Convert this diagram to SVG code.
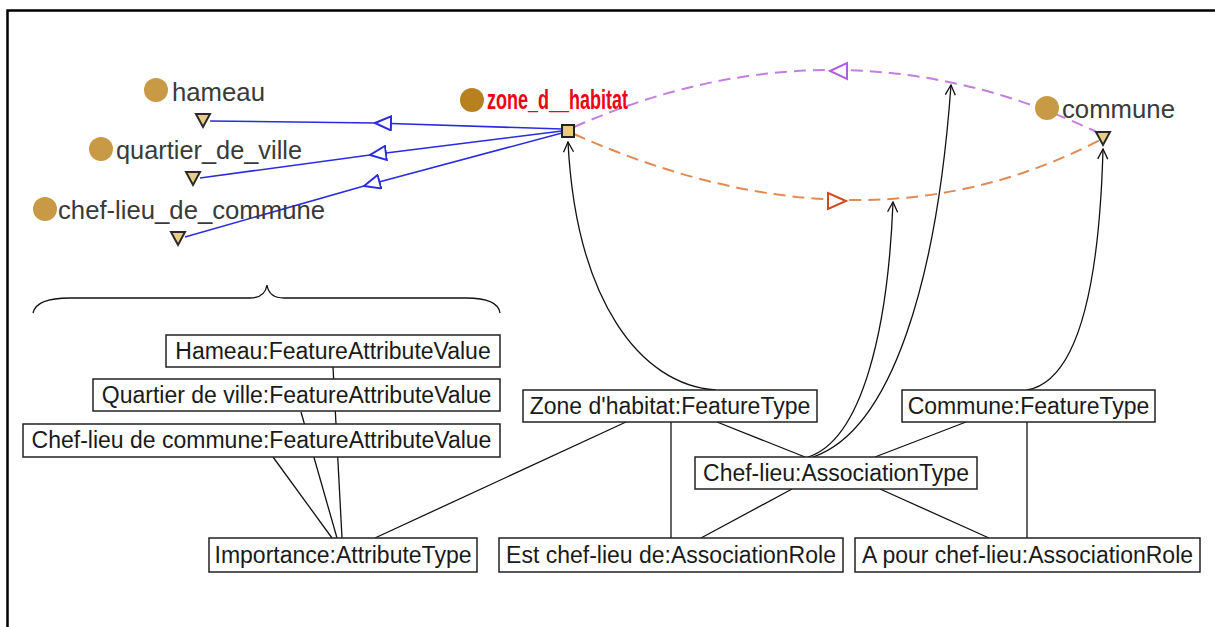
<svg xmlns="http://www.w3.org/2000/svg" width="1215" height="627" viewBox="0 0 1215 627">
<style>
.lbl{font-family:"Liberation Sans",Arial,sans-serif;font-size:25px;fill:#3a3a3a}
.box rect{fill:#fff;stroke:#222;stroke-width:1.5}
.box text{font-family:"Liberation Sans",Arial,sans-serif;font-size:23px;fill:#1a1a1a;text-anchor:middle}
.dot{fill:#c99a45}
.tri{fill:#e8cd86;stroke:#2a2a2a;stroke-width:2}
.blue{fill:none;stroke:#2b2be0;stroke-width:1.6}
.thin{fill:none;stroke:#111;stroke-width:1.3}
</style>
<defs>
<marker id="bluehead" viewBox="0 0 18 16" markerWidth="18" markerHeight="16" refX="17" refY="8" orient="auto" markerUnits="userSpaceOnUse">
<path d="M17,8 L1,1 L1,15 Z" fill="#fff" stroke="#2b2be0" stroke-width="2"/>
</marker>
<marker id="vhead" viewBox="0 0 12 12" markerWidth="12" markerHeight="12" refX="11" refY="6" orient="auto" markerUnits="userSpaceOnUse">
<path d="M1,1 L11,6 L1,11" fill="none" stroke="#111" stroke-width="1.3"/>
</marker>
</defs>
<rect width="1215" height="627" fill="#fff"/>
<path d="M7.5 627 L7.5 10.5 L1215 10.5" fill="none" stroke="#000" stroke-width="2.5"/>

<g id="connectors">
<path class="blue" d="M562 129 L375 123 L210 121" marker-mid="url(#bluehead)"/>
<path class="blue" d="M562 131 L370 155 L200 178" marker-mid="url(#bluehead)"/>
<path class="blue" d="M562 133 L364 186 L185 237" marker-mid="url(#bluehead)"/>
<path d="M574 127 Q842 9 1103 135" fill="none" stroke="#c57ee0" stroke-width="2" stroke-dasharray="12 7"/>
<path d="M830 71 L847 63 L847 79 Z" fill="#fff" stroke="#b060d8" stroke-width="2"/>
<path d="M574 134 Q863 263 1100 140" fill="none" stroke="#e08a55" stroke-width="2" stroke-dasharray="12 7"/>
<path d="M846 201 L828 193 L828 209 Z" fill="#fff" stroke="#cc4c1c" stroke-width="2"/>
<path class="thin" d="M716 390 C640 385 576 300 568 142" marker-end="url(#vhead)"/>
<path class="thin" d="M808 457 C862 440 888 330 893 202" marker-end="url(#vhead)"/>
<path class="thin" d="M813 457 C892 430 937 280 951 85" marker-end="url(#vhead)"/>
<path class="thin" d="M1027 390 C1085 380 1100 260 1103 149" marker-end="url(#vhead)"/>
<path class="thin" d="M33 313 Q36 298 70 298 L250 298 Q265 298 267 285 Q269 298 284 298 L466 298 Q498 298 500 313"/>
<line class="thin" x1="333" y1="367" x2="342" y2="538"/>
<line class="thin" x1="301" y1="412" x2="337" y2="538"/>
<line class="thin" x1="273" y1="457" x2="332" y2="538"/>
<line class="thin" x1="626" y1="422" x2="375" y2="538"/>
<line class="thin" x1="671" y1="422" x2="671" y2="538"/>
<line class="thin" x1="717" y1="422" x2="805" y2="457"/>
<line class="thin" x1="966" y1="422" x2="875" y2="457"/>
<line class="thin" x1="1027" y1="422" x2="1027" y2="538"/>
<line class="thin" x1="792" y1="489" x2="701" y2="538"/>
<line class="thin" x1="880" y1="489" x2="989" y2="538"/>
</g>

<g id="hameau">
<circle class="dot" cx="156" cy="90" r="12"/>
<text class="lbl" x="172" y="101" textLength="93" lengthAdjust="spacingAndGlyphs">hameau</text>
<path class="tri" d="M196 114 L210 114 L203 127 Z"/>
</g>
<g id="quartier_de_ville">
<circle class="dot" cx="101" cy="149" r="12"/>
<text class="lbl" x="116" y="159" textLength="186" lengthAdjust="spacingAndGlyphs">quartier_de_ville</text>
<path class="tri" d="M186 172 L200 172 L193 185 Z"/>
</g>
<g id="chef-lieu_de_commune">
<circle class="dot" cx="45" cy="209" r="12"/>
<text class="lbl" x="58" y="219" textLength="267" lengthAdjust="spacingAndGlyphs">chef-lieu_de_commune</text>
<path class="tri" d="M171 232 L185 232 L178 245 Z"/>
</g>
<g id="zone_d__habitat">
<circle cx="472" cy="100" r="12" fill="#b8801f"/>
<text x="487" y="109" font-family="Liberation Sans,Arial,sans-serif" font-size="27" font-weight="bold" fill="#f00010" textLength="141" lengthAdjust="spacingAndGlyphs">zone_d__habitat</text>
<rect x="562" y="125" width="12" height="12" fill="#f0c878" stroke="#222" stroke-width="2"/>
</g>
<g id="commune">
<circle class="dot" cx="1047" cy="108" r="12"/>
<text class="lbl" x="1062" y="118" textLength="113" lengthAdjust="spacingAndGlyphs">commune</text>
<path class="tri" d="M1096 132 L1110 132 L1103 145 Z"/>
</g>

<g id="hameau_fav" class="box"><rect x="166" y="335" width="334" height="32"/><text x="333" y="359">Hameau:FeatureAttributeValue</text></g>
<g id="quartier_fav" class="box"><rect x="93" y="379" width="407" height="32"/><text x="296.5" y="403">Quartier de ville:FeatureAttributeValue</text></g>
<g id="chef_fav" class="box"><rect x="23" y="424" width="477" height="33"/><text x="261.5" y="448">Chef-lieu de commune:FeatureAttributeValue</text></g>
<g id="importance" class="box"><rect x="209" y="538" width="268" height="34"/><text x="343" y="563">Importance:AttributeType</text></g>
<g id="zone_ft" class="box"><rect x="523" y="390" width="294" height="32"/><text x="670" y="414">Zone d'habitat:FeatureType</text></g>
<g id="commune_ft" class="box"><rect x="902" y="390" width="253" height="32"/><text x="1028.5" y="414">Commune:FeatureType</text></g>
<g id="chef_at" class="box"><rect x="695" y="457" width="282" height="32"/><text x="836" y="481">Chef-lieu:AssociationType</text></g>
<g id="est_role" class="box"><rect x="499" y="538" width="344" height="34"/><text x="671" y="563">Est chef-lieu de:AssociationRole</text></g>
<g id="apour_role" class="box"><rect x="855" y="538" width="345" height="34"/><text x="1027.5" y="563">A pour chef-lieu:AssociationRole</text></g>
</svg>
